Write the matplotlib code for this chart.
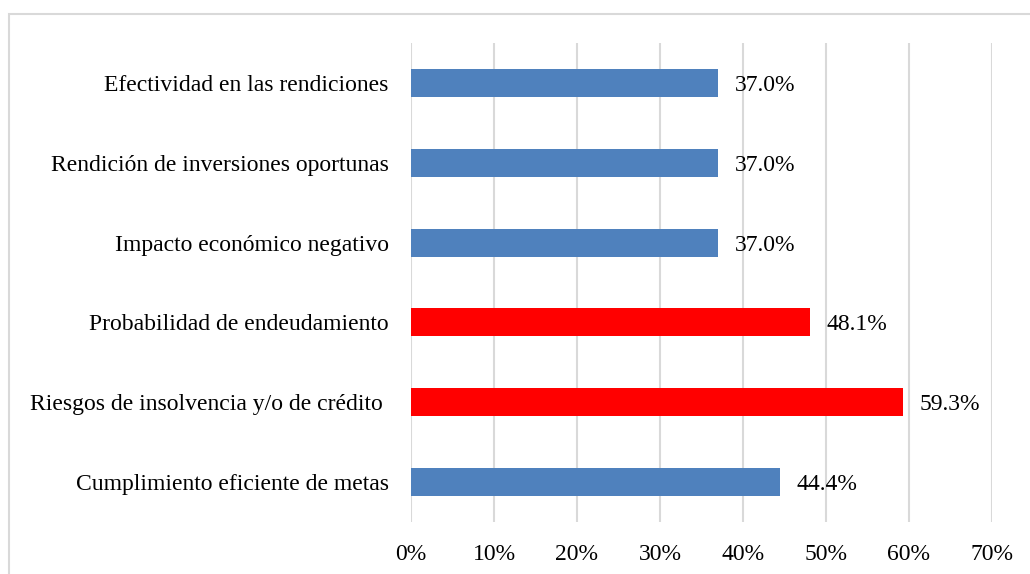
import matplotlib
matplotlib.use("Agg")
import matplotlib.pyplot as plt
from matplotlib.patches import Rectangle
from matplotlib.ticker import FuncFormatter

categories = [
    "Cumplimiento eficiente de metas",
    "Riesgos de insolvencia y/o de crédito ",
    "Probabilidad de endeudamiento",
    "Impacto económico negativo",
    "Rendición de inversiones oportunas",
    "Efectividad en las rendiciones",
]
values = [44.4, 59.3, 48.1, 37.0, 37.0, 37.0]
highlight = [False, True, True, False, False, False]
x_ticks = [0, 10, 20, 30, 40, 50, 60, 70]

BLUE = "#4F81BD"
RED = "#FF0000"
GRID = "#D9D9D9"

plt.rcParams["font.family"] = ["Liberation Serif", "DejaVu Serif"]

fig = plt.figure(figsize=(10.30, 5.74), dpi=100)
ax = fig.add_axes([411 / 1030, 1 - 522 / 574, (992 - 411) / 1030, (522 - 43) / 574])

# outer chart frame (right and bottom edges fall outside the picture)
fig.patches.append(Rectangle((9 / 1030, -0.05), 1.1, 1 - 14 / 574 + 0.05,
                             transform=fig.transFigure, fill=False,
                             edgecolor=GRID, linewidth=1.5))

colors = [RED if h else BLUE for h in highlight]
ypos = list(range(len(categories)))
ax.barh(ypos, values, height=0.35, color=colors, zorder=3)

for y, v in zip(ypos, values):
    ax.text(v + 2.0, y, f"{v:.1f}%", va="center_baseline", ha="left",
            fontsize=17, color="#000000")

ax.set_xlim(0, 70)
ax.set_ylim(-0.5, len(categories) - 0.5)
ax.set_xticks(x_ticks)
ax.xaxis.set_major_formatter(FuncFormatter(lambda x, pos: f"{x:.0f}%"))
ax.set_yticks(ypos)
ax.set_yticklabels(categories)
ax.tick_params(axis="both", length=0, labelsize=17, colors="#000000")
ax.tick_params(axis="x", pad=16)
ax.tick_params(axis="y", pad=16)

ax.grid(axis="x", color=GRID, linewidth=1.5, zorder=0)
for s in ax.spines.values():
    s.set_visible(False)

fig.savefig("out.png", dpi=100)
